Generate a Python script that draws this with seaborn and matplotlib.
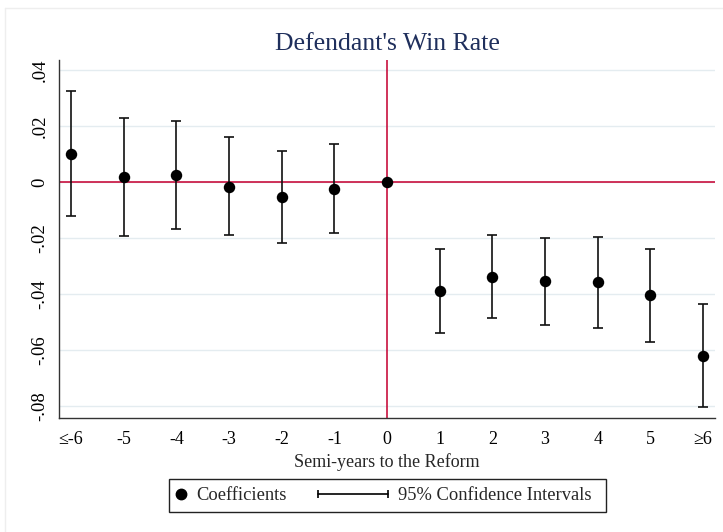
import numpy as np
import pandas as pd
import matplotlib
matplotlib.use("Agg")
import matplotlib.pyplot as plt
import seaborn as sns
from matplotlib.lines import Line2D
from matplotlib.patches import Rectangle
from matplotlib.legend_handler import HandlerLine2D, HandlerBase

categories = ["≤-6", "-5", "-4", "-3", "-2", "-1", "0", "1", "2", "3", "4", "5", "≥6"]
coef = [0.0100, 0.0019, 0.0025, -0.0017, -0.0052, -0.0025, 0.0,
        -0.0388, -0.0339, -0.0355, -0.0358, -0.0404, -0.0620]
ci_low = [-0.0121, -0.0193, -0.0167, -0.0188, -0.0217, -0.0181, np.nan,
          -0.0538, -0.0487, -0.0512, -0.0520, -0.0570, -0.0802]
ci_high = [0.0326, 0.0229, 0.0217, 0.0161, 0.0112, 0.0135, np.nan,
           -0.0239, -0.0188, -0.0199, -0.0195, -0.0238, -0.0436]
yticks = [0.04, 0.02, 0.0, -0.02, -0.04, -0.06, -0.08]
ytick_labels = [".04", ".02", "0", "-.02", "-.04", "-.06", "-.08"]

sns.set_theme(style="white")
plt.rcParams["font.family"] = ["Liberation Serif", "DejaVu Serif"]

df = pd.DataFrame({"pos": np.arange(len(categories)), "coef": coef,
                   "lo": ci_low, "hi": ci_high})

W, H = 723, 532
fig = plt.figure(figsize=(W / 100, H / 100), dpi=100)

# faint outer graph-region border
fig.add_artist(Line2D([5 / W, 1.0], [1 - 8 / H, 1 - 8 / H], transform=fig.transFigure,
                      color="#eeeeee", lw=1.0))
fig.add_artist(Line2D([5 / W, 5 / W], [0.0, 1 - 8 / H], transform=fig.transFigure,
                      color="#eeeeee", lw=1.0))

ax = fig.add_axes([59 / W, 1 - 418 / H, (715 - 59) / W, (418 - 60) / H])

grid_c = "#e4ecf0"
for t in yticks:
    ax.axhline(t, color=grid_c, lw=1.0, zorder=0)

red = "#c8103e"
ax.axhline(0, color=red, lw=1.2, zorder=1)
ax.axvline(6, color=red, lw=1.2, zorder=1)

err_lo = df["coef"] - df["lo"]
err_hi = df["hi"] - df["coef"]
ax.errorbar(df["pos"], df["coef"], yerr=[err_lo, err_hi], fmt="none",
            ecolor="#111111", elinewidth=1.2, capsize=3.3, capthick=1.2, zorder=2)
sns.scatterplot(data=df, x="pos", y="coef", ax=ax, color="black", s=68,
                edgecolor="black", linewidth=0, zorder=3, legend=False)

ax.set_xlim(-0.23, 6 + 12 / 52.6 + 6)
ax.set_ylim(-0.0843, 0.0436)
ax.set_xticks(df["pos"])
ax.set_xticklabels(categories)
ax.set_yticks(yticks)
ax.set_yticklabels(ytick_labels, rotation=90, va="center")
for s in ["top", "right"]:
    ax.spines[s].set_visible(False)
for s in ["left", "bottom"]:
    ax.spines[s].set_color("#333333")
    ax.spines[s].set_linewidth(1.0)
ax.tick_params(axis="both", direction="out", length=5, width=1.0,
               color="#333333", labelsize=13, labelcolor="black")
ax.tick_params(axis="y", pad=2.5, labelsize=13.5)
ax.tick_params(axis="x", pad=4)
ax.set_xlabel("Semi-years to the Reform", fontsize=13, labelpad=4)
ax.set_ylabel("")
ax.set_title("Defendant's Win Rate", fontsize=18.5, color="#1f2f5c", pad=7)


class HandlerCI(HandlerBase):
    def __init__(self, length_px, **kw):
        super().__init__(**kw)
        self.length_px = length_px

    def create_artists(self, legend, orig_handle, xdescent, ydescent, width,
                       height, fontsize, trans):
        y = (height - ydescent) / 2.0
        x1 = -xdescent + width
        x0 = x1 - self.length_px * 72.0 / 100.0
        ln = Line2D([x0, x1], [y, y], color="black", lw=1.2, marker="|",
                    markersize=5.5, markeredgewidth=1.2)
        ln.set_transform(trans)
        return [ln]


h1 = Line2D([], [], marker="o", color="black", linestyle="none", markersize=7.5)
h2 = Line2D([], [], color="black")
leg_fs = 13.3
leg = fig.legend([h1, h2], ["Coefficients", "95% Confidence Intervals"],
                 loc="center left", bbox_to_anchor=(175 / W, 1 - 495.5 / H), ncol=2,
                 fontsize=leg_fs, frameon=False, handlelength=0.6,
                 columnspacing=4.9, handletextpad=0.53, borderpad=0.0,
                 borderaxespad=0.0,
                 handler_map={h1: HandlerLine2D(numpoints=1),
                              h2: HandlerCI(70)})

fig.canvas.draw()
bb = leg.get_window_extent()
x0 = bb.x0 - 6
x1 = bb.x1 + 15
y0 = H - 512
y1 = H - 479
fig.add_artist(Rectangle((x0 / W, y0 / H), (x1 - x0) / W, (y1 - y0) / H,
                         transform=fig.transFigure, fill=False,
                         edgecolor="#222222", lw=1.0))

fig.savefig("out.png", dpi=100, facecolor="white")
